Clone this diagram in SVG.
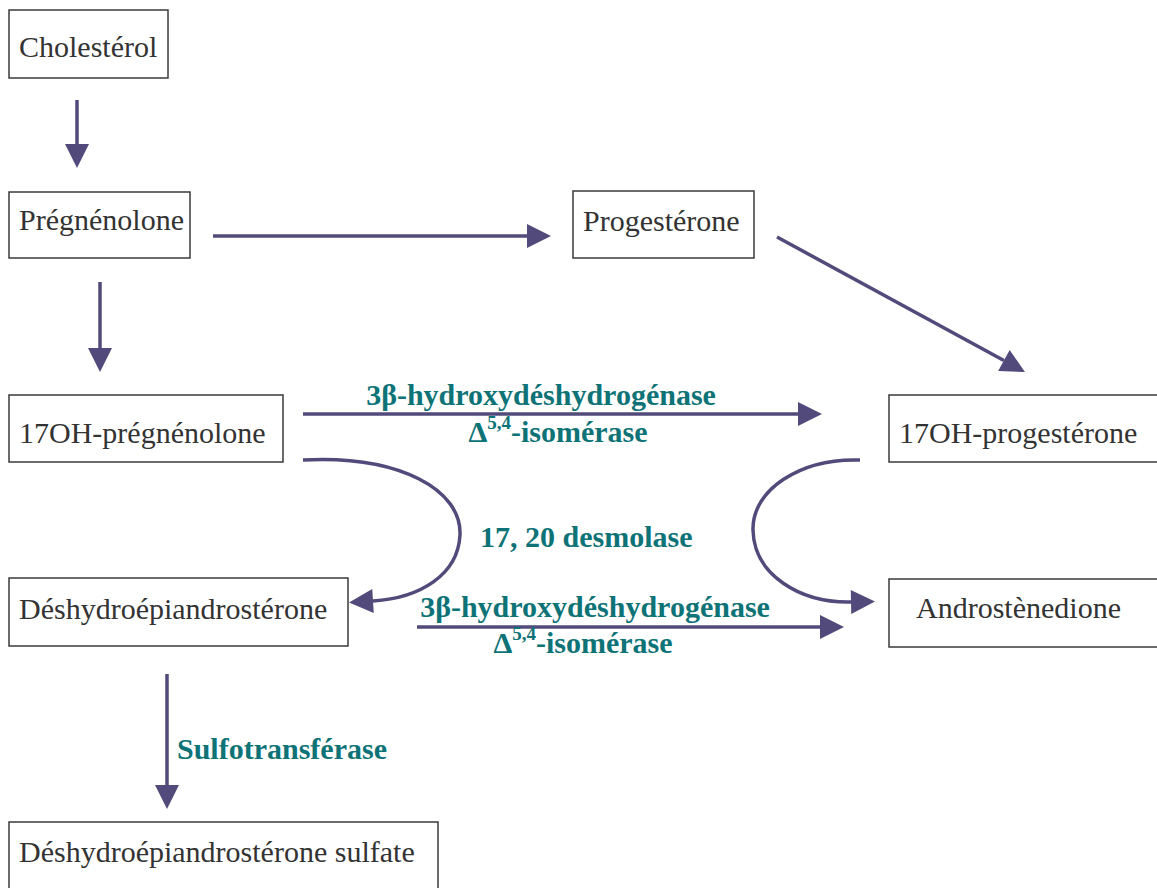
<svg xmlns="http://www.w3.org/2000/svg" width="1157" height="888" viewBox="0 0 1157 888">
<defs>
<style>
.box{fill:#fff;stroke:#3a3a3a;stroke-width:1.5}
.lbl{font-family:"Liberation Serif","Times New Roman",serif;font-size:30px;fill:#333}
.enz{font-family:"Liberation Serif","Times New Roman",serif;font-size:30px;font-weight:bold;fill:#0e7377}
.sup{font-size:19px}
.con{fill:none;stroke:#524a7a;stroke-width:3.5}
</style>
<marker id="ah" markerUnits="userSpaceOnUse" markerWidth="26" markerHeight="26" refX="0" refY="12" orient="auto" overflow="visible">
<path d="M0,0 L24,12 L0,24 z" fill="#524a7a"/>
</marker>
</defs>
<rect width="1157" height="888" fill="#fff"/>
<g id="connectors">
<line class="con" x1="77" y1="100" x2="77" y2="144" marker-end="url(#ah)"/>
<line class="con" x1="213" y1="236" x2="527" y2="236" marker-end="url(#ah)"/>
<line class="con" x1="100" y1="282" x2="100" y2="348" marker-end="url(#ah)"/>
<line class="con" x1="777" y1="237" x2="1003.9" y2="360.5" marker-end="url(#ah)"/>
<line class="con" x1="303" y1="414" x2="798" y2="414" marker-end="url(#ah)"/>
<path class="con" d="M303,460 C400,455 462,490 460,535 C458,575 420,598 373,601" marker-end="url(#ah)"/>
<path class="con" d="M860,460 C800,458 752,490 753,530 C754,575 800,603 851,602" marker-end="url(#ah)"/>
<line class="con" x1="417" y1="627" x2="820" y2="627" marker-end="url(#ah)"/>
<line class="con" x1="167" y1="674" x2="167" y2="785" marker-end="url(#ah)"/>
</g>
<g id="enzymes">
<text class="enz" x="541" y="405" text-anchor="middle">3β-hydroxydéshydrogénase</text>
<text class="enz" x="558" y="442" text-anchor="middle">Δ<tspan class="sup" dy="-13">5,4</tspan><tspan dy="13">-isomérase</tspan></text>
<text class="enz" x="480" y="547">17, 20 desmolase</text>
<text class="enz" x="595" y="617" text-anchor="middle">3β-hydroxydéshydrogénase</text>
<text class="enz" x="583" y="653" text-anchor="middle">Δ<tspan class="sup" dy="-13">5,4</tspan><tspan dy="13">-isomérase</tspan></text>
<text class="enz" x="177" y="759">Sulfotransférase</text>
</g>
<g id="cholesterol"><rect class="box" x="9" y="10" width="159" height="68"/><text class="lbl" x="19" y="57">Cholestérol</text></g>
<g id="pregnenolone"><rect class="box" x="9" y="192" width="181" height="66"/><text class="lbl" x="19" y="230">Prégnénolone</text></g>
<g id="progesterone"><rect class="box" x="573" y="191" width="181" height="67"/><text class="lbl" x="583" y="231">Progestérone</text></g>
<g id="oh-pregnenolone"><rect class="box" x="9" y="395" width="274" height="67"/><text class="lbl" x="19" y="443">17OH-prégnénolone</text></g>
<g id="oh-progesterone"><rect class="box" x="889" y="395" width="272" height="67"/><text class="lbl" x="899" y="443">17OH-progestérone</text></g>
<g id="dhea"><rect class="box" x="9" y="578" width="339" height="68"/><text class="lbl" x="19" y="619">Déshydroépiandrostérone</text></g>
<g id="androstenedione"><rect class="box" x="889" y="579" width="272" height="68"/><text class="lbl" x="916" y="618">Androstènedione</text></g>
<g id="dheas"><rect class="box" x="9" y="822" width="429" height="80"/><text class="lbl" x="19" y="862">Déshydroépiandrostérone sulfate</text></g>
</svg>
